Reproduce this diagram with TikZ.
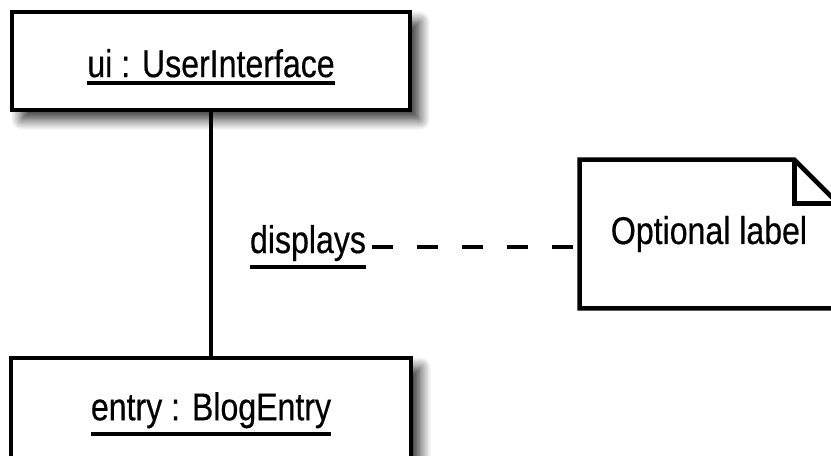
\documentclass[tikz,border=0pt]{standalone}
\usepackage{fontspec}
\setmainfont[FakeStretch=0.83, FakeBold=0.4]{Liberation Sans}
\usetikzlibrary{shadows.blur}

% underlined object name, rule below the descenders
\newsavebox{\namebox}
\newcommand{\objname}[1]{%
  \sbox{\namebox}{#1}%
  \rlap{\usebox{\namebox}}%
  \rule[\dimexpr-\dp\namebox-4.5pt\relax]{\wd\namebox}{2.2pt}}

\tikzset{
border/.style={
  line width=2.6pt,
  line join=miter,
 },
link/.style={draw, line width=2.4pt}
}

\begin{document}
\begin{tikzpicture}[
    % Styles
    objbox/.style={% For the object boxes
        rectangle,
        draw,
        fill=white,
        border,
        text height=23pt,
        font=\fontsize{22pt}{26pt}\selectfont,
        blur shadow={shadow xshift=5.5pt, shadow yshift=-5.5pt,
            shadow blur radius=6pt, shadow blur steps=12,
            shadow opacity=80},
        },
    notebox/.style={% For the note (outline drawn by hand)
        rectangle,
        font=\fontsize{22pt}{26pt}\selectfont,
        },
    lbl/.style={% For the link label
        inner sep=3.4pt,
        font=\fontsize{22pt}{26pt}\selectfont,
        },
    DashC/.style={% The dashed anchor line
        line width=2.4pt,
        dash pattern=on 12pt off 13.6pt,
        },
    ]

    \path[use as bounding box] (0,0) rectangle (16.62,-9.12);
    \clip (0,0) rectangle (16.62,-9.12);

    % Draw the objects
    \node [objbox, minimum width=7.96cm, minimum height=1.96cm] (ui) at (4.22,-1.22) {\objname{ui : UserInterface}};
    \node [objbox, minimum width=8cm, minimum height=2cm] (entry) at (4.22,-8.16) {\objname{entry : BlogEntry}};

    % Draw the link and its label
    \draw [link] (ui) -- (entry);
    \node [lbl] (disp) at (6.16,-4.94) {\objname{displays}};

    % Draw the note
    \node [notebox, minimum width=5.16cm, minimum height=2.96cm] (note) at (14.18,-4.68) {Optional label};
    \draw [border] (note.north west) -- ([xshift=-0.88cm]note.north east)
        -- ([yshift=-0.88cm]note.north east) -- (note.south east)
        -- (note.south west) -- cycle;
    \draw [border] ([xshift=-0.88cm]note.north east) |- ([yshift=-0.88cm]note.north east);

    % Anchor line
    \draw [DashC] (disp.east) -- (disp.east -| note.west);

\end{tikzpicture}
\end{document}
